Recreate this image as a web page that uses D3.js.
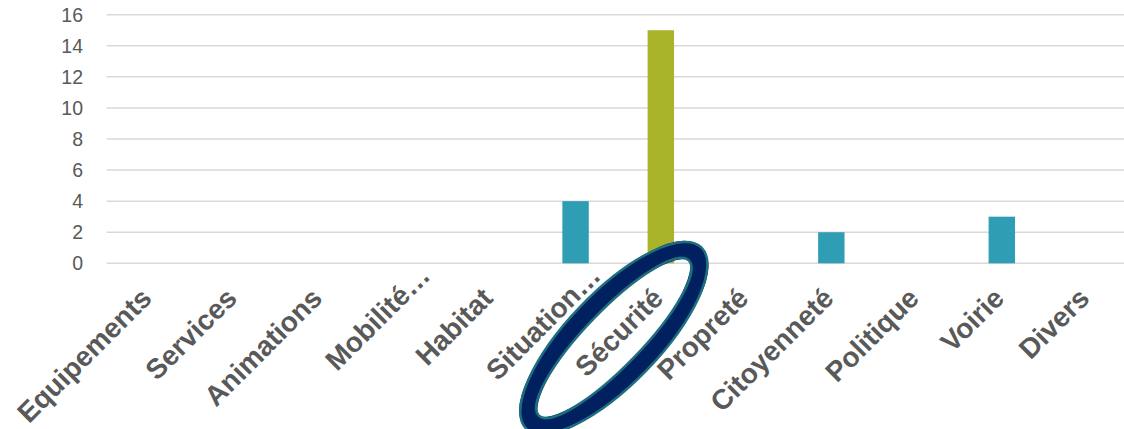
<!DOCTYPE html>
<html><head><meta charset="utf-8">
<script src="https://cdn.jsdelivr.net/npm/d3@7"></script>
<style>html,body{margin:0;padding:0;background:#fff;overflow:hidden}</style>
</head><body>
<svg id="chart" width="1124" height="429"></svg>
<script>
const categories = ["Equipements","Services","Animations","Mobilité…","Habitat","Situation…","Sécurité","Propreté","Citoyenneté","Politique","Voirie","Divers"];
const values = [0,0,0,0,0,4,15,0,2,0,3,0];
const highlighted = ["Sécurité"];
const yTicks = [0,2,4,6,8,10,12,14,16];

const svg = d3.select("#chart");
const x = d3.scaleBand().domain(categories).range([106.7, 1129.7]).padding(0);
const y = d3.scaleLinear().domain([0,16]).range([263.3, 14.7]);
const barW = x.bandwidth()*0.31;

// gridlines
svg.append("g").selectAll("line").data(yTicks).join("line")
  .attr("x1", 106.7).attr("x2", 1124)
  .attr("y1", d=>y(d)).attr("y2", d=>y(d))
  .attr("stroke", "#d9d9d9").attr("stroke-width", 1.5);

// y labels
svg.append("g").selectAll("text").data(yTicks).join("text")
  .attr("x", 83).attr("y", d=>y(d)).attr("dy","0.35em")
  .attr("text-anchor","end")
  .attr("font-family","'Liberation Sans', Arial, sans-serif")
  .attr("font-size", 19.5).attr("fill","#595959").text(d=>d);

// bars
svg.append("g").selectAll("rect").data(categories.map((c,i)=>({c,v:values[i]})).filter(d=>d.v>0)).join("rect")
  .attr("x", d=>x(d.c)+x.bandwidth()/2-barW/2)
  .attr("width", barW)
  .attr("y", d=>y(d.v)).attr("height", d=>y(0)-y(d.v))
  .attr("fill", d=>highlighted.includes(d.c) ? "#a9b42a" : "#2f9eb5");

// highlight ellipse around Sécurité label
const hc = x("Sécurité")+x.bandwidth()/2;
const eg = svg.append("g").attr("transform", `translate(${hc-47},338) rotate(-46)`);
eg.append("ellipse").attr("rx",117).attr("ry",37).attr("fill","none").attr("stroke","#002060").attr("stroke-width",18);
eg.append("ellipse").attr("rx",126).attr("ry",46).attr("fill","none").attr("stroke","#1d6f80").attr("stroke-width",2.5);
eg.append("ellipse").attr("rx",108).attr("ry",28).attr("fill","none").attr("stroke","#1d6f80").attr("stroke-width",2.5);

// x labels
svg.append("g").selectAll("text").data(categories).join("text")
  .attr("transform", d=>`translate(${x(d)+x.bandwidth()/2+4},300) rotate(-45)`)
  .attr("dx", d=>d.endsWith("…") ? 32 : 0)
  .attr("text-anchor","end")
  .attr("font-family","'Liberation Sans', Arial, sans-serif")
  .attr("font-weight","bold")
  .attr("font-size", 28).attr("fill","#595959").text(d=>d);
</script>
</body></html>
